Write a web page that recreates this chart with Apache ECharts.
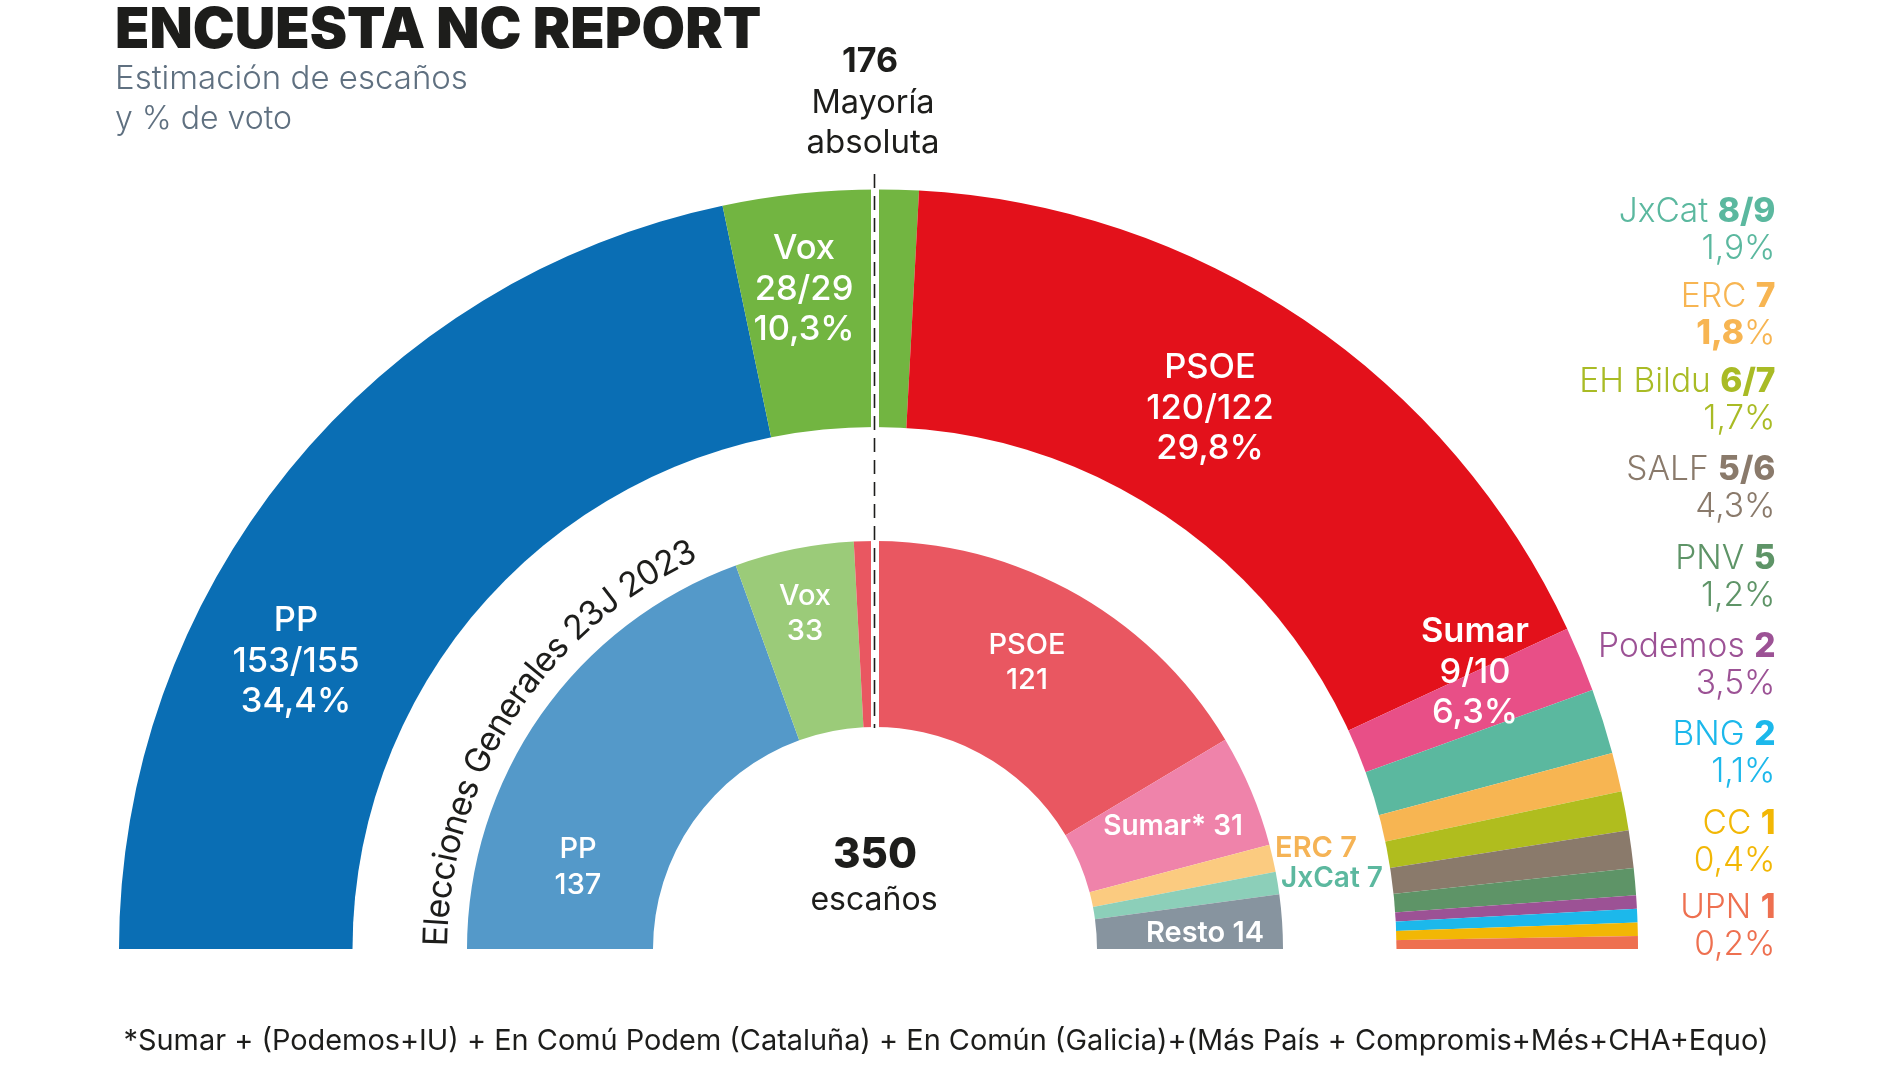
<!DOCTYPE html>
<html>
<head>
<meta charset="utf-8">
<title>Encuesta NC Report</title>
<script src="https://cdn.jsdelivr.net/npm/echarts@6/dist/echarts.min.js"></script>
<style>
  html, body { margin: 0; padding: 0; background: #fff; }
  #chart { width: 1900px; height: 1069px; }
</style>
</head>
<body>
<div id="chart"></div>
<script>
// outer ring: estimate, arc widths as drawn (in seats of 350)
var outerNames = ['PP', 'Vox', 'PSOE', 'Sumar', 'JxCat', 'ERC', 'EH Bildu', 'SALF', 'PNV', 'Podemos', 'BNG', 'CC', 'UPN'];
var outerArc = [152, 29, 120.6, 9.7, 9.7, 5.8, 5.8, 5.6, 4, 2, 2, 2, 1.9];
var outerColors = ['#0a6eb4', '#72b541', '#e3111b', '#e84f87', '#5bb89f', '#f7b552', '#b0bd1e', '#8a7a6b', '#5e9467', '#9c5295', '#1cb8eb', '#f2b705', '#ee7050'];

// inner ring: 23J 2023 result, arc widths as drawn
var innerNames = ['PP', 'Vox', 'PSOE', 'Sumar*', 'ERC', 'JxCat', 'Resto'];
var innerArc = [136.2, 33, 120.8, 31.2, 7.6, 6.2, 15];
var innerColors = ['#5499c9', '#9bcb79', '#e95761', '#ef83aa', '#fbcb80', '#8ccfb9', '#87949f'];

// right hand list
var listNames = ['JxCat', 'ERC', 'EH Bildu', 'SALF', 'PNV', 'Podemos', 'BNG', 'CC', 'UPN'];
var listSeats = ['8/9', '7', '6/7', '5/6', '5', '2', '2', '1', '1'];
var listVotes = ['1,9', '1,8', '1,7', '4,3', '1,2', '3,5', '1,1', '0,4', '0,2'];
var listColors = ['#5bb89f', '#f7b552', '#a9bb25', '#8a7a6b', '#5e9467', '#9c5295', '#1cb8eb', '#f2b705', '#ee7050'];
var listY = [210, 295, 380, 468, 557, 645, 733, 822, 906];

var bigLabels = ['PP', '153/155', '34,4%', 'Vox', '28/29', '10,3%', 'PSOE', '120/122', '29,8%', 'Sumar', '9/10', '6,3%'];
var FONT = 'Inter, "Noto Sans", sans-serif';
var BLACK = '#1d1d1b';

var cxOuter = 878.5, cxInner = 875, cy = 949;

function txt(x, y, text, size, weight, color, align) {
	return {
		type: 'text', z: 110, x: x, y: y + 2, silent: true,
		style: {
			text: text, fill: color, align: align || 'center', verticalAlign: 'middle',
			fontFamily: FONT, fontSize: size, fontWeight: weight
		}
	};
}

function ring(id, names, values, colors, cx, r0, r1, z) {
	return {
		id: id, type: 'pie', silent: true, animation: false, z: z,
		center: [cx, cy], radius: [r0, r1],
		startAngle: 180, endAngle: 360,
		label: { show: false }, labelLine: { show: false },
		data: names.map(function (n, i) {
			return { name: n, value: values[i], itemStyle: { color: colors[i] } };
		})
	};
}

var elements = [];

// the white band between the rings is not quite concentric with the outer arc
elements.push({
	type: 'sector', z: 50, silent: true,
	shape: { cx: 874.5, cy: cy, r0: 0, r: 522, startAngle: Math.PI, endAngle: 2 * Math.PI },
	style: { fill: '#fff' }
});

// gap and dashed line for the 176 seats mark
elements.push({ type: 'rect', z: 100, silent: true, shape: { x: 871, y: 180, width: 8, height: 550 }, style: { fill: '#fff' } });
elements.push({ type: 'line', z: 101, silent: true, shape: { x1: 874.5, y1: 174, x2: 874.5, y2: 728 }, style: { stroke: BLACK, lineWidth: 1.6, lineDash: [14, 8] } });

// title block
elements.push(txt(115, 29, 'ENCUESTA NC REPORT', 56.2, 900, BLACK, 'left'));
elements.push(txt(115, 77, 'Estimación de escaños', 33, 300, '#5f7080', 'left'));
elements.push(txt(115, 117, 'y % de voto', 32, 300, '#5f7080', 'left'));
elements.push(txt(870, 60, '176', 34, 700, BLACK));
elements.push(txt(873, 101, 'Mayoría', 32.5, 400, BLACK));
elements.push(txt(873, 141, 'absoluta', 33, 400, BLACK));

// labels on the outer ring
var bigX = [296, 804, 1210, 1475];
var bigY = [619, 247, 366, 630];
bigX.forEach(function (x, i) {
	for (var k = 0; k < 3; k++) {
		elements.push(txt(x, bigY[i] + k * 40.5, bigLabels[i * 3 + k], 34.5, k === 0 && i === 3 ? 600 : 500, '#fff'));
	}
});

// labels on the inner ring
elements.push(txt(578, 847, 'PP', 29, 500, '#fff'));
elements.push(txt(578, 883, '137', 29, 500, '#fff'));
elements.push(txt(805, 594, 'Vox', 29, 500, '#fff'));
elements.push(txt(805, 629, '33', 29, 500, '#fff'));
elements.push(txt(1027, 643, 'PSOE', 29, 500, '#fff'));
elements.push(txt(1027, 678, '121', 29, 500, '#fff'));
elements.push(txt(1173, 825, 'Sumar* 31', 28, 600, '#fff'));
elements.push(txt(1205, 931, 'Resto 14', 29, 600, '#fff'));
elements.push(txt(1316, 846, 'ERC 7', 29, 600, '#f5b355'));
elements.push(txt(1332, 877, 'JxCat 7', 28, 600, '#5cb89f'));
elements.push(txt(875, 853, '350', 42, 800, BLACK));
elements.push(txt(874, 898, 'escaños', 32, 400, BLACK));

// list on the right
listNames.forEach(function (n, i) {
	var color = listColors[i];
	var rich = {
		a: { fill: color, fontFamily: FONT, fontSize: 33.5, fontWeight: 300 },
		b: { fill: color, fontFamily: FONT, fontSize: 33.5, fontWeight: 800 }
	};
	elements.push({
		type: 'text', z: 110, silent: true, x: 1775.5, y: listY[i] + 2,
		style: { text: '{a|' + n + ' }{b|' + listSeats[i] + '}', rich: rich, align: 'right', verticalAlign: 'middle' }
	});
	var vote = n === 'ERC' ? '{b|' + listVotes[i] + '}{a|%}' : '{a|' + listVotes[i] + '%}';
	elements.push({
		type: 'text', z: 110, silent: true, x: 1775.5, y: listY[i] + 38.5,
		style: { text: vote, rich: rich, align: 'right', verticalAlign: 'middle' }
	});
});

// footnote
elements.push(txt(946, 1039, '*Sumar + (Podemos+IU) + En Comú Podem (Cataluña) + En Común (Galicia)+(Más País + Compromis+Més+CHA+Equo)', 28.9, 400, BLACK));

// text bent along the gap between the rings
(function () {
	var label = 'Elecciones Generales 23J 2023';
	var size = 34, r = 438, start = 0.4, end = 65.6;
	var ctx = document.createElement('canvas').getContext('2d');
	ctx.font = '400 ' + size + 'px ' + FONT;
	var total = ctx.measureText(label).width;
	var done = 0;
	for (var i = 0; i < label.length; i++) {
		var w = ctx.measureText(label[i]).width;
		var deg = start + (end - start) * (done + w / 2) / total;
		var a = deg * Math.PI / 180;
		elements.push({
			type: 'text', z: 110, silent: true,
			x: cxInner - r * Math.cos(a), y: cy - r * Math.sin(a),
			rotation: Math.PI / 2 - a,
			style: { text: label[i], fill: BLACK, align: 'center', verticalAlign: 'middle', fontFamily: FONT, fontSize: size, fontWeight: 400 }
		});
		done += w;
	}
})();

var myChart = echarts.init(document.getElementById('chart'), null, { renderer: 'canvas' });
myChart.setOption({
	animation: false,
	backgroundColor: '#fff',
	series: [
		ring('outer', outerNames, outerArc, outerColors, cxOuter, 510, 759.5, 2),
		ring('inner', innerNames, innerArc, innerColors, cxInner, 222, 408, 60)
	],
	graphic: { elements: elements }
});
</script>
</body>
</html>
